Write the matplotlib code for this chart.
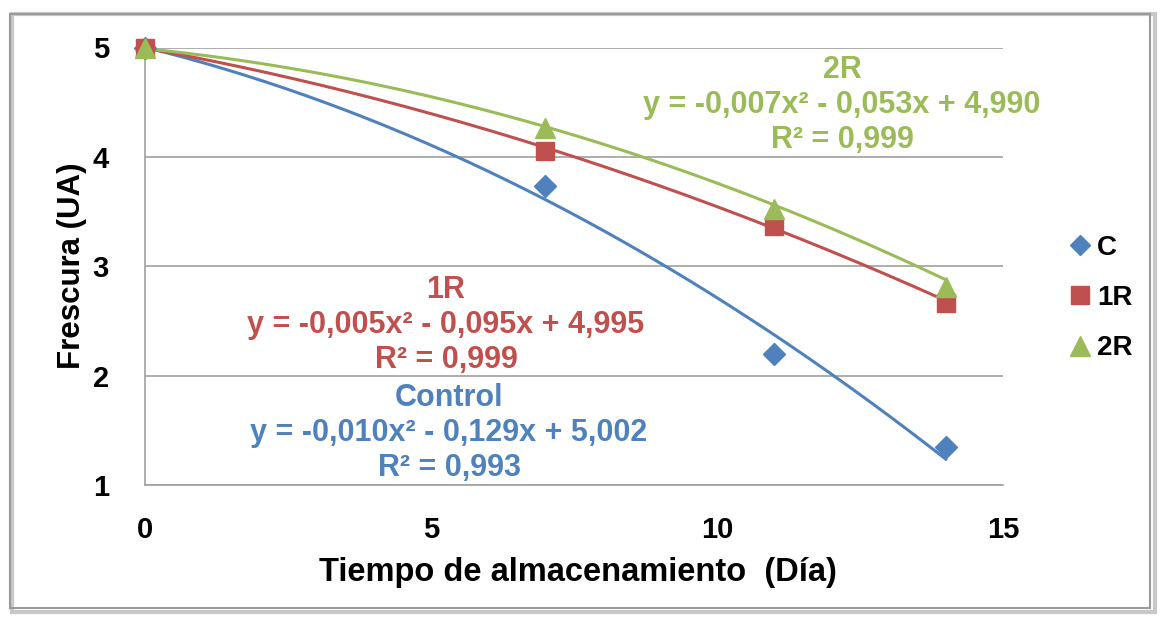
import numpy as np
import matplotlib.pyplot as plt
from matplotlib.patches import Rectangle

plt.rcParams['font.family'] = ['Liberation Sans', 'DejaVu Sans']
plt.rcParams['font.weight'] = 'bold'

# Data
dias = [0, 7, 11, 14]
control = [5.0, 3.73, 2.20, 1.35]
r1 = [5.0, 4.05, 3.37, 2.66]
r2 = [5.0, 4.26, 3.52, 2.81]

series_names = ['C', '1R', '2R']
series_colors = ['#4F81BD', '#C0504D', '#9BBB59']
series_markers = ['D', 's', '^']

# trendline coefficients as printed on the chart (a, b, c)
coef_control = [-0.010, -0.129, 5.002]
coef_r1 = [-0.005, -0.095, 4.995]
coef_r2 = [-0.007, -0.053, 4.990]

eq_texts = [
    'Control\ny = -0,010x² - 0,129x + 5,002\nR² = 0,993',
    '1R\ny = -0,005x² - 0,095x + 4,995\nR² = 0,999',
    '2R\ny = -0,007x² - 0,053x + 4,990\nR² = 0,999',
]

W, H = 1163, 619
fig = plt.figure(figsize=(W / 100, H / 100), dpi=100)

# outer frame like the Excel chart area
fig.patches.append(Rectangle((12 / W, 1 - 612 / H), 1143 / W, 598 / H,
                             transform=fig.transFigure, fill=False,
                             edgecolor='#C8C8C8', linewidth=3, zorder=0))
fig.patches.append(Rectangle((10 / W, 1 - 608 / H), 1140 / W, 594 / H,
                             transform=fig.transFigure, fill=False,
                             edgecolor='#9A9A9A', linewidth=1.5, zorder=1))

ax = fig.add_axes([145 / W, 1 - 485 / H, 858 / W, 437.5 / H])

xs = np.linspace(0, 14, 200)
all_y = [control, r1, r2]
all_coef = [coef_control, coef_r1, coef_r2]
sizes = [11, 13, 15]
for coef, col in zip(all_coef, series_colors):
    ax.plot(xs, np.polyval(coef, xs), color=col, lw=2.2, zorder=2)
for name, ys, col, mk, ms in zip(series_names, all_y, series_colors,
                                 series_markers, sizes):
    ax.plot(dias, ys, linestyle='none', marker=mk, markersize=ms, color=col,
            label=name, zorder=3, clip_on=False)

ax.set_xlim(0, 15)
ax.set_ylim(1, 5)
ax.set_xticks([0, 5, 10, 15])
ax.set_yticks([1, 2, 3, 4, 5])
ax.tick_params(length=0, labelsize=21, pad=0)
ax.tick_params(axis='y', pad=26)
ax.tick_params(axis='x', pad=22)
ax.yaxis.grid(True, color='#A0A0A0', lw=1.2)
ax.set_axisbelow(True)
for s in ['top', 'right']:
    ax.spines[s].set_visible(False)
for s in ['left', 'bottom']:
    ax.spines[s].set_color('#A0A0A0')
    ax.spines[s].set_linewidth(1.2)

fig.text(578 / W, 1 - 572 / H, 'Tiempo de almacenamiento  (Día)',
         ha='center', va='center', fontsize=23.5, fontweight='bold')
fig.text(72 / W, 1 - 266 / H, 'Frescura (UA)', rotation=90,
         ha='center', va='center', fontsize=22.5, fontweight='bold')

# trendline labels
label_pos = [(449, 433), (446, 325), (842, 105)]
for txt, (px, py), col in zip(eq_texts, label_pos, series_colors):
    fig.text(px / W, 1 - py / H, txt, color=col, ha='center', va='center',
             fontsize=22, fontweight='bold', linespacing=1.2)

leg = ax.legend(loc='center left', bbox_to_anchor=(1069 / W, 1 - 298 / H),
                bbox_transform=fig.transFigure, frameon=False, fontsize=20,
                handlelength=0.8, handletextpad=0.2, labelspacing=0.88,
                borderaxespad=0, borderpad=0)
for t in leg.get_texts():
    t.set_fontweight('bold')
for h, ms in zip(leg.legend_handles, [10, 13, 14]):
    h.set_markersize(ms)

fig.savefig('out.png', dpi=100)
